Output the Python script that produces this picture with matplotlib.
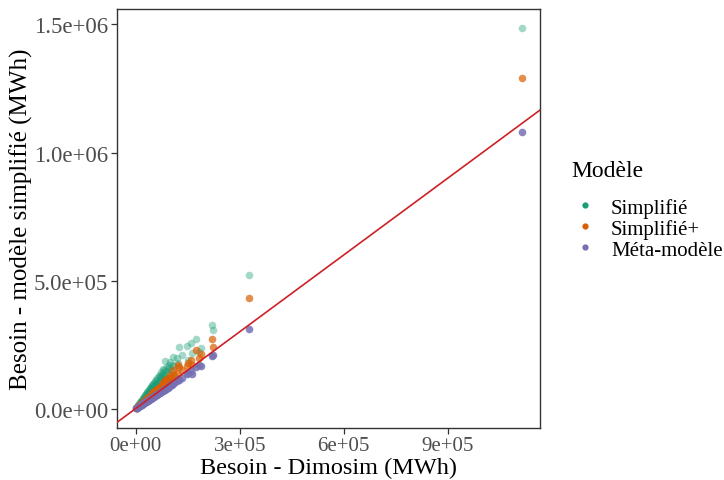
import matplotlib
matplotlib.use("Agg")
import matplotlib.pyplot as plt
from matplotlib.lines import Line2D
from matplotlib.ticker import FixedLocator

# Dimosim reference demand (kMWh) and the three model estimates (kMWh)
x_dimosim = [1113, 327, 224, 220, 187, 182, 175, 163, 160, 152, 148, 133, 125, 123, 118, 112,
             109, 105, 102, 100, 97, 95, 92, 90, 88, 85, 84, 82, 81, 79, 78, 76, 74, 72, 71, 69,
             68, 66, 65, 63, 62, 60, 59, 57, 56, 54, 53, 51, 50, 48, 47, 46, 45, 44, 43, 42, 41,
             40, 39, 38, 37, 36, 35, 34, 33, 32, 31, 30, 29, 28, 27, 26, 25, 24, 23, 22, 21, 20,
             19, 18, 17, 16, 15, 14, 13, 12, 11, 10, 8, 7, 6, 5, 4, 3, 2]
y_simplifie = [1487, 523, 306, 325, 236, 222, 270, 218, 257, 191, 246, 211, 241, 178, 196, 165,
               203, 172, 150, 181, 158, 170, 139, 162, 147, 185, 131, 152, 120, 154, 138, 126, 143,
               118, 132, 122, 109, 128, 104, 119, 98, 113, 95, 108, 90, 101, 86, 97, 80, 92, 76,
               88, 71, 84, 69, 80, 65, 77, 60, 73, 58, 69, 55, 64, 51, 61, 47, 57, 44, 53, 40, 49,
               37, 45, 33, 41, 30, 38, 27, 34, 24, 30, 21, 26, 18, 22, 15, 19, 14, 10, 11, 7, 7, 4, 3]
y_simplifie_plus = [1289, 432, 241, 270, 215, 197, 228, 172, 190, 179, 168, 150, 162, 172, 138,
                    130, 152, 125, 118, 131, 112, 121, 104, 115, 101, 110, 96, 103, 92, 99, 88, 94,
                    85, 90, 80, 86, 77, 82, 73, 78, 70, 74, 66, 70, 63, 66, 59, 63, 56, 59, 52, 56,
                    50, 53, 48, 51, 45, 48, 43, 46, 41, 43, 39, 41, 36, 38, 34, 36, 32, 33, 30, 31,
                    27, 29, 25, 26, 23, 24, 21, 21, 19, 19, 16, 17, 14, 14, 12, 12, 9, 8, 7, 6, 4, 3, 2]
y_meta = [1079, 311, 210, 207, 165, 170, 162, 137, 148, 140, 134, 121, 112, 115, 106, 101, 100,
          94, 93, 91, 86, 87, 81, 82, 78, 77, 74, 75, 71, 72, 69, 70, 65, 66, 62, 63, 60, 61, 57,
          58, 54, 55, 52, 52, 49, 50, 46, 47, 44, 44, 41, 42, 40, 40, 38, 39, 36, 37, 34, 35, 33,
          33, 31, 31, 29, 29, 27, 28, 26, 26, 24, 24, 22, 22, 20, 20, 19, 18, 17, 16, 15, 15, 13,
          13, 11, 11, 10, 9, 7, 6, 5, 4, 3, 3, 2]

models = ["Simplifié", "Simplifié+", "Méta-modèle"]
colors = ["#1b9e77", "#d95f02", "#7570b3"]
alphas = [0.4, 0.7, 0.85]
x_ticks = [0, 3e5, 6e5, 9e5]
x_labels = ["0e+00", "3e+05", "6e+05", "9e+05"]
y_ticks = [0, 5e5, 1e6, 1.5e6]
y_labels = ["0.0e+00", "5.0e+05", "1.0e+06", "1.5e+06"]

plt.rcParams["font.family"] = ["Liberation Serif", "DejaVu Serif"]

W, H = 724, 481
fig = plt.figure(figsize=(W / 100, H / 100), dpi=100)
ax = fig.add_axes([0.161, 0.108, 0.585, 0.871])

xs = [v * 1000 for v in x_dimosim]
for ys, c, a in zip([y_simplifie, y_simplifie_plus, y_meta], colors, alphas):
    ax.scatter(xs, [v * 1000 for v in ys], s=30, color=c, alpha=a, linewidths=0, zorder=2)

ax.axline((0, 0), slope=1, color="#cc2127", lw=1.2, zorder=3)

ax.set_xlim(-5.5e4, 1.166e6)
ax.set_ylim(-7.6e4, 1.56e6)
ax.xaxis.set_major_locator(FixedLocator(x_ticks))
ax.yaxis.set_major_locator(FixedLocator(y_ticks))
ax.set_xticklabels(x_labels)
ax.set_yticklabels(y_labels)
ax.tick_params(length=4, width=0.9, color="#333333", labelcolor="#4d4d4d", pad=2)
ax.tick_params(axis="x", labelsize=15)
ax.tick_params(axis="y", labelsize=16.5)
for sp in ax.spines.values():
    sp.set_color("#333333")
    sp.set_linewidth(1.0)

ax.set_xlabel("Besoin - Dimosim (MWh)", fontsize=17.5, labelpad=1)
ax.set_ylabel("Besoin - modèle simplifié (MWh)", fontsize=18, labelpad=1)

# legend, placed by hand in figure pixels
fig.text(571 / W, 1 - 177 / H, "Modèle", fontsize=17, va="baseline", ha="left")
for i, (name, c) in enumerate(zip(models, colors)):
    yb = 214 + 21 * i
    fig.add_artist(Line2D([585 / W], [1 - (yb - 8) / H], transform=fig.transFigure,
                          linestyle="", marker="o", markersize=4.5, color=c,
                          markeredgewidth=0))
    fig.text(611 / W, 1 - yb / H, name, fontsize=15, va="baseline", ha="left")

fig.savefig("out.png", dpi=100)
